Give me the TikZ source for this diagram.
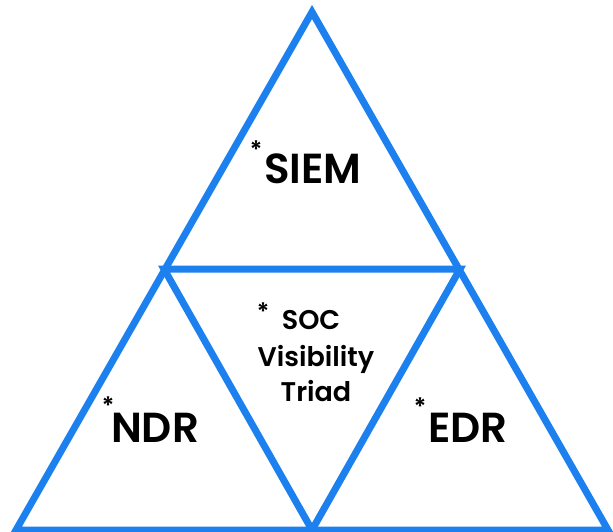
\documentclass[tikz,border=0pt]{standalone}
\usepackage{fontspec}
\setmainfont{Poppins}
\newfontfamily\labelfont{Poppins SemiBold}
\definecolor{triblue}{RGB}{28,128,238}
\begin{document}
\begin{tikzpicture}[x=1pt,y=-1pt,
  edge/.style={draw=triblue,line width=7pt,line join=miter},
  bigtag/.style={font=\labelfont\fontsize{42}{44}\selectfont,inner sep=0pt,anchor=base},
  smalltag/.style={font=\labelfont\fontsize{27}{35}\selectfont,inner sep=0pt,anchor=base},
  star/.style={font=\labelfont\fontsize{24}{24}\selectfont,inner sep=0pt}]
\useasboundingbox (0,0) rectangle (613,532);
\fill[white] (0,0) rectangle (613,532);
% corners of the outer triangle and midpoints of its sides
\coordinate (top) at (312,12);
\coordinate (bl) at (16,530);
\coordinate (br) at (608,530);
\coordinate (ml) at (164,269);
\coordinate (mr) at (460,269);
\coordinate (mb) at (312,530);
\draw[edge] (top) -- (bl) -- (br) -- cycle;
\draw[edge] (ml) -- (mr) -- (mb) -- cycle;
% labels
\node[bigtag] (siem) at (313,183) {SIEM};
\node[star] (siemstar) at (256,150) {*};
\node[bigtag] (ndr) at (155,442) {NDR};
\node[star] (ndrstar) at (108,406) {*};
\node[bigtag] (edr) at (468,442) {EDR};
\node[star] (edrstar) at (420,407) {*};
\node[smalltag] (soc) at (311,329) {SOC};
\node[smalltag] (vis) at (316,366) {Visibility};
\node[smalltag] (triad) at (316,401) {Triad};
\node[star] (socstar) at (263,312) {*};
\end{tikzpicture}
\end{document}
